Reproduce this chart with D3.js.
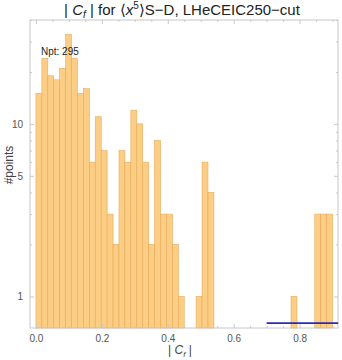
<!DOCTYPE html>
<html><head><meta charset="utf-8">
<script src="https://cdn.jsdelivr.net/npm/d3@7"></script>
<style>body{margin:0;background:#fff;font-family:"Liberation Sans",Arial,sans-serif}</style>
</head><body><svg id="c" width="342" height="360"></svg>
<script>
const binWidth = 0.018;
const binStarts = [0,1,2,3,4,5,6,7,8,9,10,11,12,13,14,15,16,17,18,19,20,21,22,23,24,27,28,29,43,47,48,49];
const counts = [15,24,19,18,21,33,24,15,16,6,11,7,3,2,7,6,12,10,6,2,8,3,3,2,1,1,6,4,1,3,3,3];
const xTicks = [0,0.2,0.4,0.6,0.8];
const xTickLabels = ["0.0","0.2","0.4","0.6","0.8"];
const yTicks = [1,5,10,50];
const yMinor = [2,3,4,6,7,8,9,20,30,40];
const refLine = {x0:0.7, x1:0.917, y:0.7};
const npt = "Npt: 295";

const svg = d3.select("#c");
const L=30, R=338, T=20, B=328;
const x = d3.scaleLinear().domain([-0.018,0.9165]).range([L,R]);
const y = d3.scaleLog().domain([0.656,40]).range([B,T]);

// bars
svg.append("g").selectAll("rect").data(counts).join("rect")
  .attr("x",(d,i)=>x(binStarts[i]*binWidth))
  .attr("width",(d,i)=>x((binStarts[i]+1)*binWidth)-x(binStarts[i]*binWidth))
  .attr("y",d=>y(d))
  .attr("height",d=>B-y(d))
  .attr("fill","#fcce85")
  .attr("stroke","#e8aa55")
  .attr("stroke-width",0.6);

// frame
const frameColor="#c8c8c8";
svg.append("rect").attr("x",L).attr("y",T).attr("width",R-L).attr("height",B-T)
  .attr("fill","none").attr("stroke",frameColor).attr("stroke-width",1);

const minorX = d3.range(0,0.95,0.05).filter(v=>Math.abs(v*5-Math.round(v*5))>1e-6);
// axes
const gx = svg.append("g").attr("transform",`translate(0,${B})`)
  .call(d3.axisBottom(x).tickValues(xTicks).tickFormat((d,i)=>xTickLabels[i]).tickSize(4).tickPadding(3));
const gxm = svg.append("g").attr("transform",`translate(0,${B})`)
  .call(d3.axisBottom(x).tickValues(minorX).tickFormat("").tickSize(2));
const gxt = svg.append("g").attr("transform",`translate(0,${T})`)
  .call(d3.axisTop(x).tickValues(xTicks).tickFormat("").tickSize(4));
const gxtm = svg.append("g").attr("transform",`translate(0,${T})`)
  .call(d3.axisTop(x).tickValues(minorX).tickFormat("").tickSize(2));
const gy = svg.append("g").attr("transform",`translate(${L},0)`)
  .call(d3.axisLeft(y).tickValues(yTicks.filter(v=>v<=40)).tickFormat(d3.format("d")).tickSize(4).tickPadding(3));
const gym = svg.append("g").attr("transform",`translate(${L},0)`)
  .call(d3.axisLeft(y).tickValues(yMinor).tickFormat("").tickSize(2));
const gyr = svg.append("g").attr("transform",`translate(${R},0)`)
  .call(d3.axisRight(y).tickValues(yTicks.filter(v=>v<=40)).tickFormat("").tickSize(4));
const gyrm = svg.append("g").attr("transform",`translate(${R},0)`)
  .call(d3.axisRight(y).tickValues(yMinor).tickFormat("").tickSize(2));
[gx,gxm,gxt,gxtm,gy,gym,gyr,gyrm].forEach(g=>{
  g.select(".domain").remove();
  g.selectAll(".tick line").attr("stroke",frameColor);
  g.selectAll("text").attr("fill","#555").attr("font-size",10).attr("font-family","Liberation Sans, Arial, sans-serif");
});
gx.selectAll(".tick line").attr("transform","translate(0,-4)");
gxm.selectAll(".tick line").attr("transform","translate(0,-2)");
gxt.selectAll(".tick line").attr("transform","translate(0,4)");
gxtm.selectAll(".tick line").attr("transform","translate(0,2)");
gy.selectAll(".tick line").attr("transform","translate(4,0)");
gym.selectAll(".tick line").attr("transform","translate(2,0)");
gyr.selectAll(".tick line").attr("transform","translate(-4,0)");
gyrm.selectAll(".tick line").attr("transform","translate(-2,0)");

// reference line
svg.append("line").attr("x1",x(refLine.x0)).attr("x2",x(refLine.x1))
  .attr("y1",y(refLine.y)).attr("y2",y(refLine.y))
  .attr("stroke","#2b2bb8").attr("stroke-width",1.6);

// Npt text
svg.append("text").attr("x",41).attr("y",55).attr("font-size",10).attr("fill","#222").text(npt);

// title
const title = svg.append("text").attr("x",182).attr("y",15).attr("text-anchor","middle")
  .attr("font-size",15).attr("fill","#222");
title.append("tspan").text("| ");
title.append("tspan").attr("font-style","italic").text("C");
title.append("tspan").attr("font-style","italic").attr("font-size",10).attr("dy",3).text("f");
title.append("tspan").attr("dy",-3).text(" | for \u27E8");
title.append("tspan").attr("font-style","italic").text("x");
title.append("tspan").attr("font-size",10).attr("dy",-6).text("5");
title.append("tspan").attr("dy",6).text("\u27E9S\u2212D, LHeCEIC250\u2212cut");

// x label
const xl = svg.append("text").attr("x",180).attr("y",354).attr("text-anchor","middle")
  .attr("font-size",12).attr("fill","#444");
xl.append("tspan").text("| ");
xl.append("tspan").attr("font-style","italic").text("C");
xl.append("tspan").attr("font-style","italic").attr("font-size",8).attr("dy",3).text("f");
xl.append("tspan").attr("dy",-3).text(" |");

// y label
svg.append("text").attr("transform","translate(13,165) rotate(-90)").attr("text-anchor","middle")
  .attr("font-size",12).attr("fill","#444").text("#points");
</script></body></html>
